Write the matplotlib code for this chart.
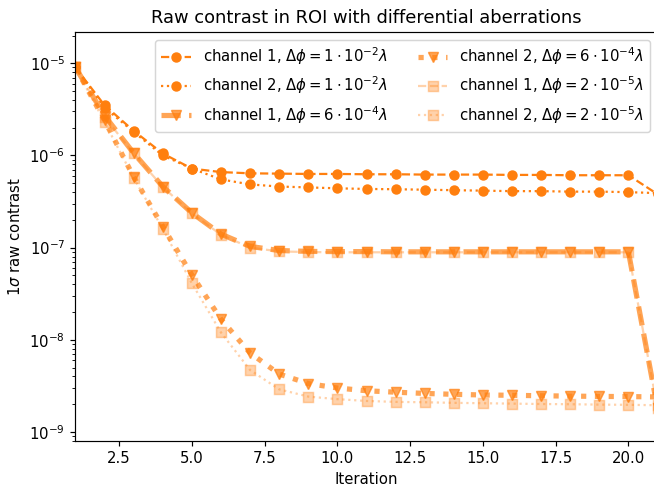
import numpy as np
import matplotlib
matplotlib.use("Agg")
import matplotlib.pyplot as plt

iterations = np.arange(1, 22)
xticks = [2.5, 5.0, 7.5, 10.0, 12.5, 15.0, 17.5, 20.0]

# channel 1 / channel 2 for three aberration levels
ch1_1e2 = [9.0e-6, 3.5e-6, 1.85e-6, 1.05e-6, 7.2e-7, 6.6e-7, 6.4e-7, 6.35e-7, 6.3e-7, 6.3e-7,
           6.25e-7, 6.25e-7, 6.2e-7, 6.2e-7, 6.2e-7, 6.15e-7, 6.15e-7, 6.1e-7, 6.1e-7, 6.1e-7, 3.8e-7]
ch2_1e2 = [9.0e-6, 3.3e-6, 1.8e-6, 1.0e-6, 7.2e-7, 5.5e-7, 4.85e-7, 4.6e-7, 4.5e-7, 4.4e-7,
           4.33e-7, 4.3e-7, 4.25e-7, 4.2e-7, 4.15e-7, 4.1e-7, 4.1e-7, 4.05e-7, 4.05e-7, 4.0e-7, 3.9e-7]
ch1_6e4 = [9.0e-6, 2.7e-6, 1.06e-6, 4.6e-7, 2.38e-7, 1.4e-7, 1.03e-7, 9.3e-8, 9.1e-8, 9.05e-8,
           9.05e-8, 9.0e-8, 9.0e-8, 9.0e-8, 9.0e-8, 9.0e-8, 9.0e-8, 9.0e-8, 9.0e-8, 9.0e-8, 1.8e-9]
ch2_6e4 = [9.0e-6, 2.4e-6, 5.85e-7, 1.69e-7, 5.05e-8, 1.67e-8, 7.2e-9, 4.25e-9, 3.35e-9, 3.0e-9,
           2.8e-9, 2.7e-9, 2.62e-9, 2.56e-9, 2.52e-9, 2.5e-9, 2.47e-9, 2.45e-9, 2.43e-9, 2.42e-9, 2.4e-9]
ch1_2e5 = [9.0e-6, 2.6e-6, 1.05e-6, 4.55e-7, 2.35e-7, 1.38e-7, 1.0e-7, 9.1e-8, 8.95e-8, 8.9e-8,
           8.9e-8, 8.9e-8, 8.9e-8, 8.9e-8, 8.9e-8, 8.9e-8, 8.9e-8, 8.9e-8, 8.9e-8, 8.9e-8, 1.8e-9]
ch2_2e5 = [9.0e-6, 2.3e-6, 5.7e-7, 1.6e-7, 4.1e-8, 1.2e-8, 4.7e-9, 2.9e-9, 2.42e-9, 2.27e-9,
           2.17e-9, 2.12e-9, 2.1e-9, 2.07e-9, 2.05e-9, 2.03e-9, 2.01e-9, 2.0e-9, 1.98e-9, 1.97e-9, 1.95e-9]

labels = [r"channel 1, $\Delta\phi = 1\cdot 10^{-2}\lambda$",
          r"channel 2, $\Delta\phi = 1\cdot 10^{-2}\lambda$",
          r"channel 1, $\Delta\phi = 6\cdot 10^{-4}\lambda$",
          r"channel 2, $\Delta\phi = 6\cdot 10^{-4}\lambda$",
          r"channel 1, $\Delta\phi = 2\cdot 10^{-5}\lambda$",
          r"channel 2, $\Delta\phi = 2\cdot 10^{-5}\lambda$"]

c = "#ff7f0e"
dpi = 107
fig = plt.figure(figsize=(654 / dpi, 486 / dpi), dpi=dpi)
ax = fig.add_axes([0.1154, 0.0926, 0.89, 0.841])

ax.plot(iterations, ch1_1e2, "--", marker="o", color=c, lw=1.5, ms=6, label=labels[0])
ax.plot(iterations, ch2_1e2, ":", marker="o", color=c, lw=1.5, ms=6, label=labels[1])
ax.plot(iterations, ch1_6e4, "--", marker="v", color=c, lw=3.5, ms=7, alpha=0.7, label=labels[2])
ax.plot(iterations, ch2_6e4, ":", marker="v", color=c, lw=3.5, ms=7, alpha=0.7, label=labels[3])
ax.plot(iterations, ch1_2e5, "--", marker="s", color=c, lw=1.5, ms=7, alpha=0.35, label=labels[4])
ax.plot(iterations, ch2_2e5, ":", marker="s", color=c, lw=1.5, ms=7, alpha=0.35, label=labels[5])

ax.set_yscale("log")
ax.set_xlim(1, 21)
ax.set_xticks(xticks)
ax.set_ylim(7.98e-10, 2.17e-5)
ax.set_title("Raw contrast in ROI with differential aberrations")
ax.set_xlabel("Iteration")
ax.set_ylabel(r"$1\sigma$ raw contrast")
ax.legend(ncol=2, loc="upper right")

fig.savefig("out.png", dpi=dpi)
